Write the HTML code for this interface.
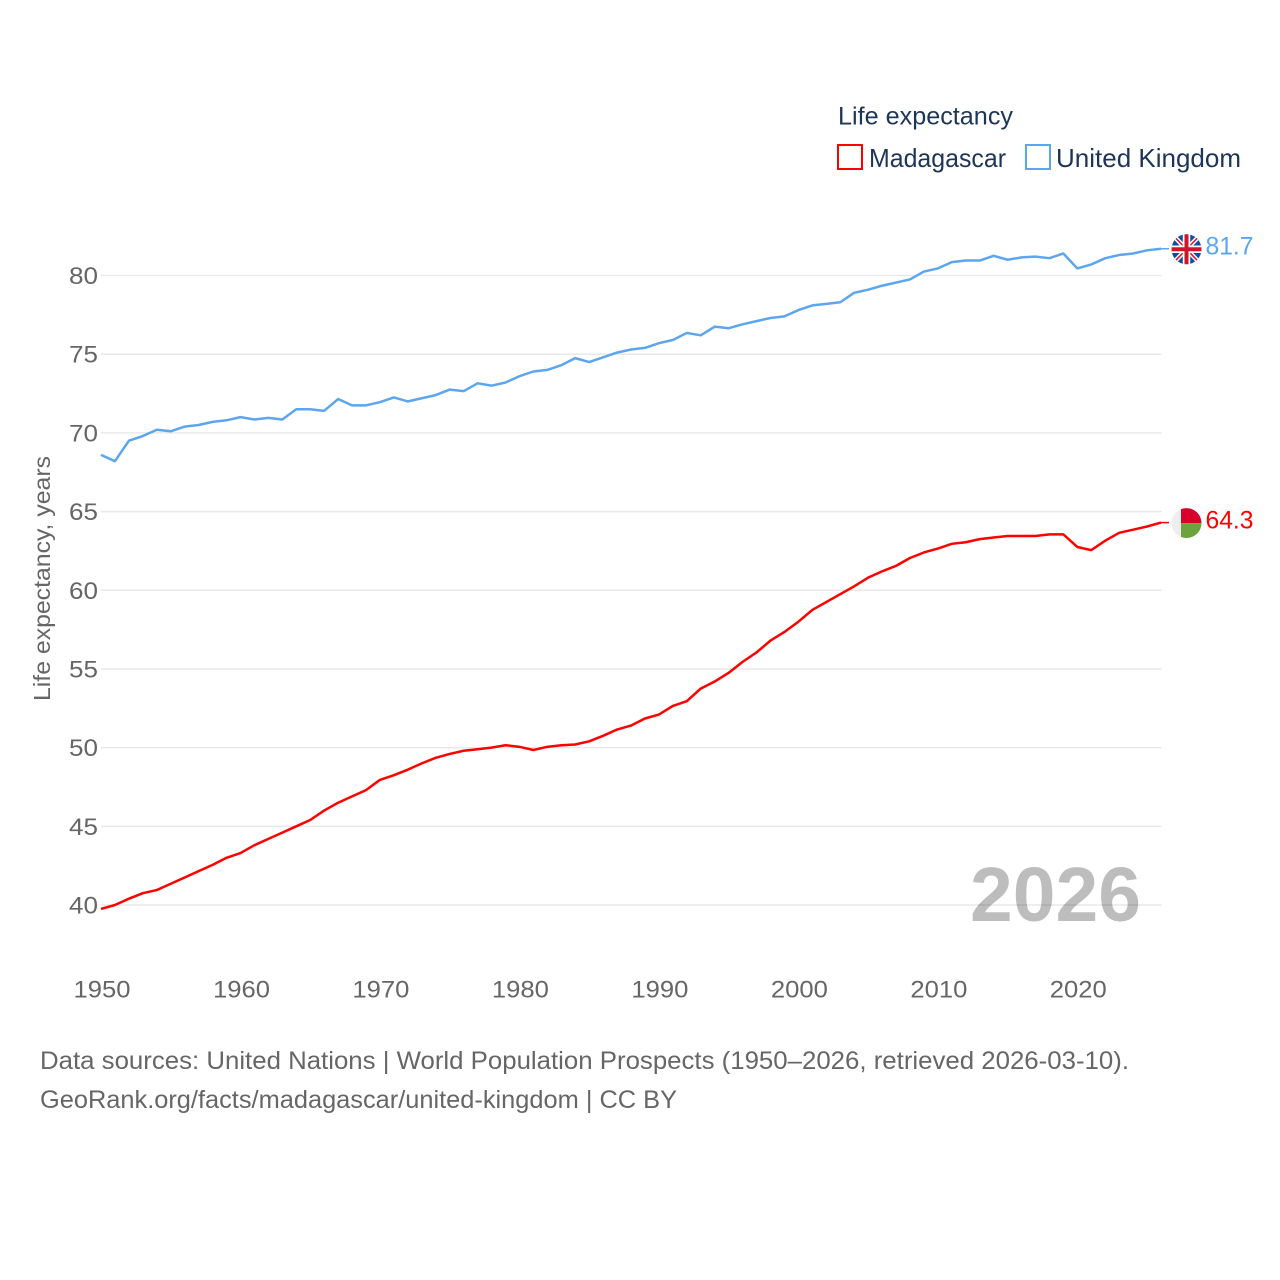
<!DOCTYPE html>
<html lang="en">
<head>
<meta charset="utf-8">
<title>Life expectancy: Madagascar and United Kingdom</title>
<style>
html,body{margin:0;padding:0;background:#fff}
svg{display:block}
text{font-family:"Liberation Sans",sans-serif}
</style>
</head>
<body>
<svg id="chart" xmlns="http://www.w3.org/2000/svg" width="1280" height="1280" viewBox="0 0 1280 1280">
<defs>
<clipPath id="flag-clip-uk"><circle cx="1186.500" cy="0" r="15"/></clipPath>
<clipPath id="flag-clip-mg"><circle cx="1186.500" cy="0" r="15"/></clipPath>
</defs>
<rect width="1280" height="1280" fill="#fff"/>
<g id="grid"></g>
<g id="yticks"></g>
<g id="xticks"></g>
<text transform="translate(50,578.500) rotate(-90)" text-anchor="middle" font-size="23.500" fill="#666" textLength="245" lengthAdjust="spacingAndGlyphs">Life expectancy, years</text>
<text x="970" y="921" font-size="77" font-weight="bold" fill="#000" fill-opacity="0.26" textLength="171" lengthAdjust="spacingAndGlyphs">2026</text>
<g id="series"></g>
<g id="flags"></g>
<g id="legend">
<text x="838" y="124.500" font-size="25" fill="#1d3557" textLength="175" lengthAdjust="spacingAndGlyphs">Life expectancy</text>
<g>
<rect x="838" y="145" width="24" height="24" fill="#fff" stroke="#ff0000" stroke-width="2"/>
<text x="869" y="167" font-size="26" fill="#1d3557" textLength="137" lengthAdjust="spacingAndGlyphs">Madagascar</text>
</g>
<g>
<rect x="1026" y="145" width="24" height="24" fill="#fff" stroke="#5da5ee" stroke-width="2"/>
<text x="1056" y="167" font-size="26" fill="#1d3557" textLength="185" lengthAdjust="spacingAndGlyphs">United Kingdom</text>
</g>
</g>
<text x="40" y="1069" font-size="25" fill="#666" textLength="1089" lengthAdjust="spacingAndGlyphs">Data sources: United Nations | World Population Prospects (1950–2026, retrieved 2026-03-10).</text>
<text x="40" y="1108" font-size="25" fill="#666" textLength="637" lengthAdjust="spacingAndGlyphs">GeoRank.org/facts/madagascar/united-kingdom | CC BY</text>
</svg>
<script>
const startYear = 1950;
const xTickLabels = [1950,1960,1970,1980,1990,2000,2010,2020];
const yTickLabels = [40,45,50,55,60,65,70,75,80];
const madagascarValues = [39.75,40.0,40.4,40.75,40.95,41.35,41.75,42.15,42.55,43.0,43.3,43.8,44.2,44.6,45.0,45.4,46.0,46.5,46.9,47.3,47.95,48.25,48.6,49.0,49.35,49.6,49.8,49.9,50.0,50.15,50.05,49.85,50.05,50.15,50.2,50.4,50.75,51.15,51.4,51.85,52.1,52.65,52.95,53.75,54.2,54.75,55.45,56.05,56.8,57.35,58.0,58.75,59.25,59.75,60.25,60.8,61.2,61.55,62.05,62.4,62.65,62.95,63.05,63.25,63.35,63.45,63.45,63.45,63.55,63.55,62.75,62.55,63.15,63.65,63.85,64.05,64.3];
const unitedKingdomValues = [68.6,68.2,69.5,69.8,70.2,70.1,70.4,70.5,70.7,70.8,71.0,70.85,70.95,70.85,71.5,71.5,71.4,72.15,71.75,71.75,71.95,72.25,72.0,72.2,72.4,72.75,72.65,73.15,73.0,73.2,73.6,73.9,74.0,74.3,74.75,74.5,74.8,75.1,75.3,75.4,75.7,75.9,76.35,76.2,76.75,76.65,76.9,77.1,77.3,77.4,77.8,78.1,78.2,78.3,78.9,79.1,79.35,79.55,79.75,80.25,80.45,80.85,80.95,80.95,81.25,81.0,81.15,81.2,81.1,81.4,80.45,80.7,81.1,81.3,81.4,81.6,81.7];

const NS = 'http://www.w3.org/2000/svg';
function xScale(year){ return 101 + (year - 1950) * (1161 - 101) / 76; }
function yScale(v){ return 905 - (v - 40) * (905 - 275.5) / 40; }
function make(tag, attrs, parent){
  const el = document.createElementNS(NS, tag);
  for (const k in attrs) el.setAttribute(k, attrs[k]);
  parent.appendChild(el);
  return el;
}
const grid = document.getElementById('grid');
const yticks = document.getElementById('yticks');
const xticks = document.getElementById('xticks');
const series = document.getElementById('series');
const flags = document.getElementById('flags');

yTickLabels.forEach(function(v){
  const line = make('line', {x1:101, x2:1161.500, y1:yScale(v), y2:yScale(v), stroke:'#e9e9e9', 'stroke-width':1.5}, grid);
  
  
  const t = make('text', {x:98, y:yScale(v)+8.500, 'text-anchor':'end', 'font-size':24.500, fill:'#666', textLength:29, lengthAdjust:'spacingAndGlyphs'}, yticks);
  t.textContent = v;
  
  
});
xTickLabels.forEach(function(y){
  const t = make('text', {x:xScale(y) + 1, y:997.500, 'text-anchor':'middle', 'font-size':24.500, fill:'#666', textLength:57, lengthAdjust:'spacingAndGlyphs'}, xticks);
  t.textContent = y;
  
  
});

function pathFor(values){
  return values.map(function(v,i){
    return (i ? 'L' : 'M') + xScale(startYear + i).toFixed(2) + ' ' + yScale(v).toFixed(2);
  }).join(' ');
}
function endY(values){ return yScale(values[values.length - 1]); }

const ukPath = make('path', {d:pathFor(unitedKingdomValues), fill:'none', stroke:'#5da5ee', 'stroke-width':2.500, 'stroke-linejoin':'round'}, series);


const mgPath = make('path', {d:pathFor(madagascarValues), fill:'none', stroke:'#ff0000', 'stroke-width':2.500, 'stroke-linejoin':'round'}, series);



const ukY = endY(unitedKingdomValues);
const mgY = endY(madagascarValues);

const ukLeader = make('line', {x1:1161, x2:1169, y1:ukY, y2:ukY, stroke:'#5da5ee', 'stroke-width':1.5}, series);


const mgLeader = make('line', {x1:1161, x2:1169, y1:mgY, y2:mgY, stroke:'#ff0000', 'stroke-width':1.5}, series);



// flags follow the series end values
const ukFlag = make('g', {transform:'translate(0,' + (ukY + 0.5) + ')', 'clip-path':'url(#flag-clip-uk)'}, flags);


make('rect', {x:1171, y:-16, width:31, height:32, fill:'#0b4ea2'}, ukFlag);
make('path', {d:'M1172 -15 L1201 15 M1201 -15 L1172 15', stroke:'#fff', 'stroke-width':4.5}, ukFlag);
make('path', {d:'M1172 -15 L1201 15 M1201 -15 L1172 15', stroke:'#d0142c', 'stroke-width':1.5}, ukFlag);
make('path', {d:'M1186.500 -16 V16 M1171 0 H1202', stroke:'#fff', 'stroke-width':7.5}, ukFlag);
make('path', {d:'M1186.500 -16 V16 M1171 0 H1202', stroke:'#d0142c', 'stroke-width':4}, ukFlag);

const mgFlag = make('g', {transform:'translate(0,' + (mgY + 0.5) + ')', 'clip-path':'url(#flag-clip-mg)'}, flags);


make('rect', {x:1171, y:-16, width:10, height:32, fill:'#eeeeee'}, mgFlag);
make('rect', {x:1181, y:-16, width:22, height:16, fill:'#d8002c'}, mgFlag);
make('rect', {x:1181, y:0, width:22, height:16, fill:'#6da33c'}, mgFlag);

const ukLabel = make('text', {x:1205.500, y:ukY + 6, 'font-size':25, fill:'#5da5ee', textLength:48, lengthAdjust:'spacingAndGlyphs'}, flags);
ukLabel.textContent = unitedKingdomValues[unitedKingdomValues.length - 1].toFixed(1);


const mgLabel = make('text', {x:1205.500, y:mgY + 6, 'font-size':25, fill:'#ff0000', textLength:48, lengthAdjust:'spacingAndGlyphs'}, flags);
mgLabel.textContent = madagascarValues[madagascarValues.length - 1].toFixed(1);


</script>
</body>
</html>
